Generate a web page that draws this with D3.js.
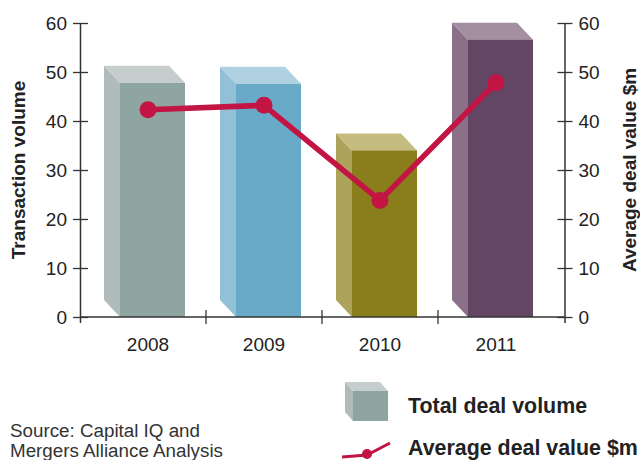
<!DOCTYPE html>
<html>
<head>
<meta charset="utf-8">
<script src="https://cdn.jsdelivr.net/npm/d3@7"></script>
<style>
  body { margin: 0; background: #fff; }
  svg { display: block; font-family: "Liberation Sans", Arial, Helvetica, sans-serif; }
  .axis text { font-size: 19px; fill: #222; }
</style>
</head>
<body>
<svg id="chart"></svg>
<script>
// Data
const years = ["2008", "2009", "2010", "2011"];
const dealVolume = [47.8, 47.6, 34, 56.6];
const avgDealValue = [42.3, 43.2, 23.8, 47.8];
const leftTicks = [0, 10, 20, 30, 40, 50, 60];
const rightTicks = [0, 10, 20, 30, 40, 50, 60];

// front / side / top shade per bar
const palette = [
  { front: "#8fa5a2", side: "#afbcbb", top: "#c5cecd" },
  { front: "#68aac7", side: "#92c0d7", top: "#afd1e2" },
  { front: "#8a7d1c", side: "#aea35a", top: "#c5bd80" },
  { front: "#634663", side: "#8a7088", top: "#a48fa2" },
];
const lineColor = "#c21543";

const width = 640, height = 460;
const margin = { top: 23, left: 80.5, right: 565, bottom: 317 };
const depth = { dx: 16, dy: 17 };

const svg = d3.select("#chart").attr("width", width).attr("height", height);

const x = d3.scaleBand().domain(years).range([90, 554]);
const yLeft = d3.scaleLinear().domain([0, 60]).range([margin.bottom, margin.top]);
const yRight = d3.scaleLinear().domain([0, 60]).range([margin.bottom, margin.top]);
const center = (d) => x(d) + x.bandwidth() / 2;

// 3D bars
const bars = svg.append("g").selectAll("g")
  .data(years.map((year, i) => ({ year, value: dealVolume[i], c: palette[i] })))
  .join("g");

const faceX0 = (d) => center(d.year) - 28;
const faceX1 = (d) => center(d.year) + 37;

bars.append("polygon")
  .attr("fill", (d) => d.c.side)
  .attr("points", (d) => {
    const x0 = faceX0(d), top = yLeft(d.value), bot = yLeft(0);
    return [[x0, bot], [x0 - depth.dx, bot - depth.dy], [x0 - depth.dx, top - depth.dy], [x0, top]].join(" ");
  });

bars.append("polygon")
  .attr("fill", (d) => d.c.top)
  .attr("points", (d) => {
    const x0 = faceX0(d), x1 = faceX1(d), top = yLeft(d.value);
    return [[x0, top], [x0 - depth.dx, top - depth.dy], [x1 - depth.dx, top - depth.dy], [x1, top]].join(" ");
  });

bars.append("rect")
  .attr("fill", (d) => d.c.front)
  .attr("x", faceX0)
  .attr("width", (d) => faceX1(d) - faceX0(d))
  .attr("y", (d) => yLeft(d.value))
  .attr("height", (d) => yLeft(0) - yLeft(d.value));

// Axes
const axisColor = "#333";

const leftAxisG = svg.append("g").attr("class", "axis")
  .attr("transform", `translate(${margin.left},0)`)
  .call(d3.axisLeft(yLeft).tickValues(leftTicks).tickSize(7.5).tickSizeOuter(0).tickPadding(6));
leftAxisG.select(".domain").remove();
leftAxisG.selectAll(".tick line").attr("x1", 7.5).attr("stroke", axisColor).attr("stroke-width", 1.3);

const rightAxisG = svg.append("g").attr("class", "axis")
  .attr("transform", `translate(${margin.right},0)`)
  .call(d3.axisRight(yRight).tickValues(rightTicks).tickSize(7.5).tickSizeOuter(0).tickPadding(6));
rightAxisG.select(".domain").remove();
rightAxisG.selectAll(".tick line").attr("x1", -7.5).attr("stroke", axisColor).attr("stroke-width", 1.3);

[margin.left, margin.right].forEach((ax) => {
  svg.append("line")
    .attr("x1", ax).attr("x2", ax)
    .attr("y1", yLeft(60)).attr("y2", yLeft(0) + 6)
    .attr("stroke", axisColor).attr("stroke-width", 1.5);
});

const xAxisG = svg.append("g").attr("class", "axis")
  .attr("transform", `translate(0,${margin.bottom})`)
  .call(d3.axisBottom(x).tickSize(0).tickPadding(21));
xAxisG.select(".domain").remove();

svg.append("line")
  .attr("x1", margin.left).attr("x2", margin.right)
  .attr("y1", margin.bottom).attr("y2", margin.bottom)
  .attr("stroke", axisColor).attr("stroke-width", 1.5);

svg.append("g").selectAll("line")
  .data(years.slice(1))
  .join("line")
  .attr("x1", (d) => x(d)).attr("x2", (d) => x(d))
  .attr("y1", margin.bottom - 7).attr("y2", margin.bottom + 7)
  .attr("stroke", axisColor).attr("stroke-width", 1.3);

// Axis titles
svg.append("text")
  .attr("transform", `translate(25,${(margin.top + margin.bottom) / 2}) rotate(-90)`)
  .attr("text-anchor", "middle")
  .style("font-size", "19px").style("font-weight", "bold").style("fill", "#222")
  .text("Transaction volume");

svg.append("text")
  .attr("transform", `translate(636,${(margin.top + margin.bottom) / 2}) rotate(-90)`)
  .attr("text-anchor", "middle")
  .style("font-size", "19px").style("font-weight", "bold").style("fill", "#222")
  .text("Average deal value $m");

// Line series
const line = d3.line()
  .x((d, i) => center(years[i]))
  .y((d) => yRight(d));

svg.append("path")
  .datum(avgDealValue)
  .attr("fill", "none")
  .attr("stroke", lineColor)
  .attr("stroke-width", 5.5)
  .attr("stroke-linejoin", "round")
  .attr("d", line);

svg.append("g").selectAll("circle")
  .data(avgDealValue)
  .join("circle")
  .attr("cx", (d, i) => center(years[i]))
  .attr("cy", (d) => yRight(d))
  .attr("r", 8.5)
  .attr("fill", lineColor);

// Legend
const lg = svg.append("g");
const cube = { x0: 353, x1: 388, top: 391, bot: 421, dx: 8, dy: 9 };
lg.append("polygon").attr("fill", palette[0].side)
  .attr("points", [[cube.x0, cube.bot], [cube.x0 - cube.dx, cube.bot - cube.dy], [cube.x0 - cube.dx, cube.top - cube.dy], [cube.x0, cube.top]].join(" "));
lg.append("polygon").attr("fill", palette[0].top)
  .attr("points", [[cube.x0, cube.top], [cube.x0 - cube.dx, cube.top - cube.dy], [cube.x1 - cube.dx, cube.top - cube.dy], [cube.x1, cube.top]].join(" "));
lg.append("rect").attr("fill", palette[0].front)
  .attr("x", cube.x0).attr("y", cube.top)
  .attr("width", cube.x1 - cube.x0).attr("height", cube.bot - cube.top);

lg.append("path")
  .attr("d", "M342,457 L367,455 L390,443")
  .attr("fill", "none").attr("stroke", lineColor).attr("stroke-width", 3);
lg.append("circle").attr("cx", 367).attr("cy", 454).attr("r", 5).attr("fill", lineColor);

lg.selectAll("text")
  .data(["Total deal volume", "Average deal value $m"])
  .join("text")
  .attr("x", 408)
  .attr("y", (d, i) => (i === 0 ? 413 : 455))
  .style("font-size", "21.4px").style("font-weight", "bold").style("fill", "#222")
  .text((d) => d);

// Source note
svg.append("g").selectAll("text")
  .data(["Source: Capital IQ and", "Mergers Alliance Analysis"])
  .join("text")
  .attr("x", 10)
  .attr("y", (d, i) => 437 + i * 20)
  .style("font-size", "18.8px").style("fill", "#333")
  .text((d) => d);
</script>
</body>
</html>
